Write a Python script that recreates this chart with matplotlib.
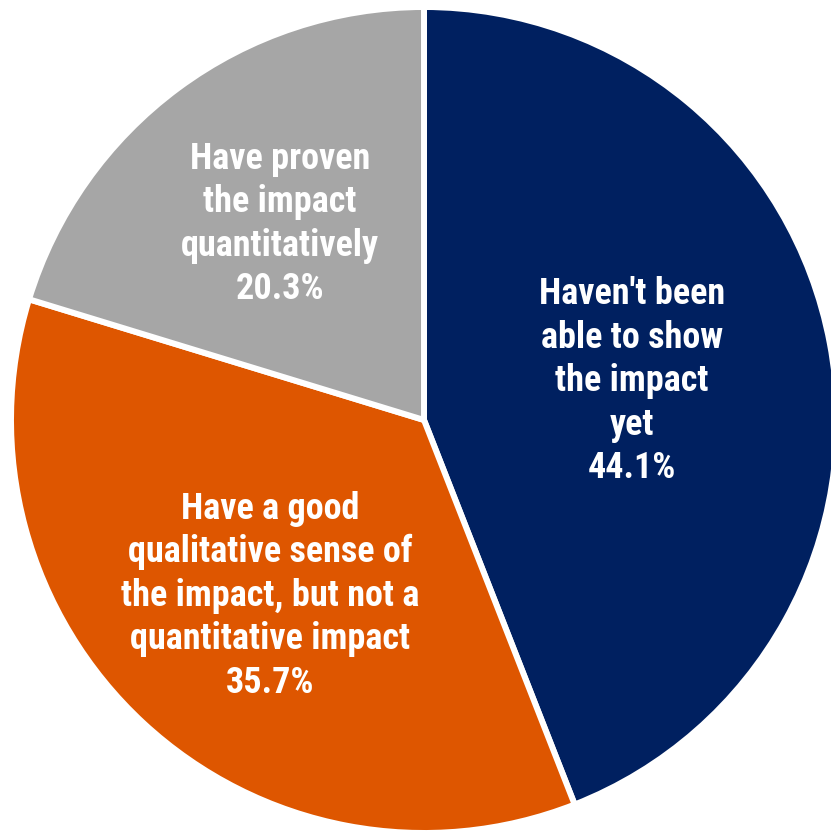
import matplotlib
matplotlib.use("Agg")
import matplotlib.pyplot as plt

categories = ["Haven't been\nable to show\nthe impact\nyet",
              "Have a good\nqualitative sense of\nthe impact, but not a\nquantitative impact",
              "Have proven\nthe impact\nquantitatively"]
values = [44.1, 35.7, 20.3]
colors = ["#002060", "#DE5600", "#A6A6A6"]
label_pos = [(0.504, 0.094), (-0.373, -0.425), (-0.349, 0.475)]

plt.rcParams['font.family'] = ['Roboto Condensed', 'PT Sans Narrow', 'DejaVu Sans']

fig = plt.figure(figsize=(8.31, 8.33), dpi=100)
ax = fig.add_axes([0, 0, 1, 1])
R = 413.0
cx, cy = 424.0, 420.0
ax.pie(values, colors=colors, startangle=90, counterclock=False, radius=1,
       wedgeprops=dict(edgecolor="white", linewidth=4.3))
ax.set_aspect('auto')
ax.set_xlim(-cx / R, (831 - cx) / R)
ax.set_ylim(-(833 - cy) / R, cy / R)
ax.axis('off')

for cat, v, (x, y) in zip(categories, values, label_pos):
    ax.text(x, y, f"{cat}\n{v:.1f}%", ha='center', va='center', color='white',
            fontsize=26, fontweight='bold', linespacing=1.265)

fig.savefig("out.png", dpi=100)
